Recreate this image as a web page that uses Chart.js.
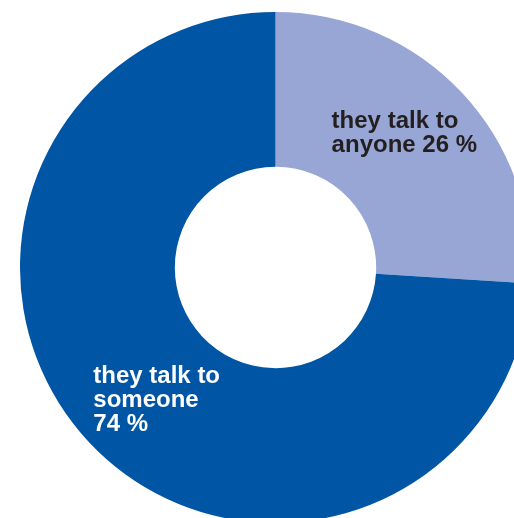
<!DOCTYPE html>
<html lang="en">
<head>
    <meta charset="UTF-8">
    <title>Who they talk to</title>
    <script src="https://cdn.jsdelivr.net/npm/chart.js"></script>
    <style>
        html, body {
            margin: 0;
            padding: 0;
            width: 514px;
            height: 518px;
            overflow: hidden;
            background: #ffffff;
        }
        .chart-box {
            position: absolute;
            left: 20px;
            top: 12px;
            width: 511px;
            height: 511px;
        }
    </style>
</head>
<body>
    <div class="chart-box">
        <canvas id="talkChart" width="511" height="511"></canvas>
    </div>

    <script>
        // Share of people by who they talk to (%)
        const categories = ['they talk to anyone', 'they talk to someone'];
        const shares = [26, 74];
        // Text shown on each slice, one entry per line
        const sliceLabels = [
            ['they talk to', 'anyone ' + shares[0] + ' %'],
            ['they talk to', 'someone', shares[1] + ' %']
        ];

        const sliceColors = ['#97a6d4', '#0055a4'];
        const labelColors = ['#231f20', '#ffffff'];
        const labelNudge = [[-1, -13], [11, 10]];

        // Writes the multi-line label inside each slice
        const sliceText = {
            id: 'sliceText',
            afterDatasetsDraw(chart) {
                const ctx = chart.ctx;
                const arcs = chart.getDatasetMeta(0).data;
                const lineH = 24;
                ctx.save();
                ctx.font = 'bold 24px "Liberation Sans", Arial, sans-serif';
                ctx.textAlign = 'left';
                ctx.textBaseline = 'alphabetic';
                arcs.forEach((arc, i) => {
                    const p = arc.tooltipPosition();
                    const lines = sliceLabels[i];
                    const w = Math.max(...lines.map(l => ctx.measureText(l).width));
                    const left = p.x - w / 2 + labelNudge[i][0];
                    const top = p.y - (lines.length * lineH) / 2 + labelNudge[i][1];
                    ctx.fillStyle = labelColors[i];
                    lines.forEach((l, j) => {
                        ctx.fillText(l, left, top + lineH * (j + 0.8));
                    });
                });
                ctx.restore();
            }
        };

        const ctxTalk = document.getElementById('talkChart').getContext('2d');
        const talkChart = new Chart(ctxTalk, {
            type: 'doughnut',
            data: {
                labels: categories,
                datasets: [{
                    data: shares,
                    backgroundColor: sliceColors,
                    borderWidth: 0
                }]
            },
            options: {
                responsive: false,
                animation: false,
                cutout: '39.4%',
                layout: { padding: 0 },
                plugins: {
                    legend: { display: false },
                    tooltip: { enabled: false }
                }
            },
            plugins: [sliceText]
        });
    </script>
</body>
</html>
